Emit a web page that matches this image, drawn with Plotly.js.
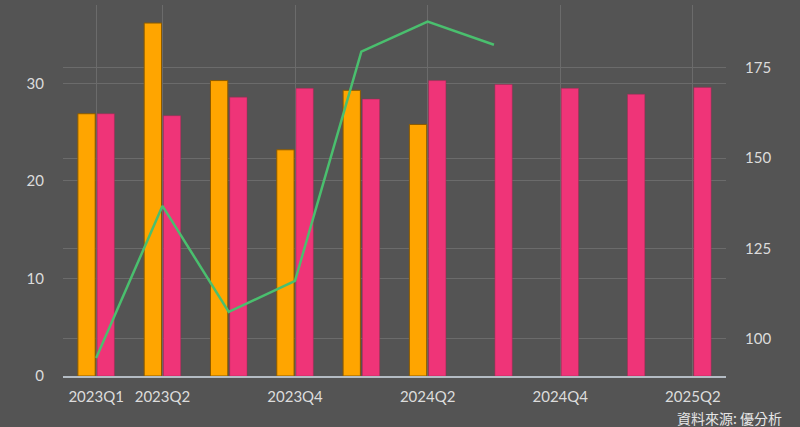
<!DOCTYPE html>
<html>
<head>
<meta charset="utf-8">
<script src="https://cdn.plot.ly/plotly-3.0.1.min.js"></script>
<style>html,body{margin:0;padding:0;background:#545454;}</style>
</head>
<body>
<div id="chart" style="width:800px;height:427px;"></div>
<script>
const quarters = ["2023Q1","2023Q2","2023Q3","2023Q4","2024Q1","2024Q2","2024Q3","2024Q4","2025Q1","2025Q2"];
const tickLabels = ["2023Q1","2023Q2","2023Q4","2024Q2","2024Q4","2025Q2"];
const orangeValues = [26.9, 36.2, 30.3, 23.2, 29.3, 25.8, null, null, null, null];
const pinkValues = [26.9, 26.7, 28.6, 29.5, 28.4, 30.3, 29.9, 29.5, 28.9, 29.6];
const lineValues = [94.7, 136.8, 107.5, 116.1, 179.5, 187.8, 181.4, null, null, null];
const leftTicks = [0, 10, 20, 30];
const rightTicks = [100, 125, 150, 175];

const traces = [
  {type:'bar', x:quarters, y:orangeValues, name:'A', marker:{color:'#FFA500', line:{color:'#8a5a00', width:1}}, hoverinfo:'skip'},
  {type:'bar', x:quarters, y:pinkValues, name:'B', marker:{color:'#EF3478', line:{color:'#a02a55', width:0.5}}, hoverinfo:'skip'},
  {type:'scatter', mode:'lines', x:quarters, y:lineValues, yaxis:'y2', name:'C', line:{color:'#4ABF6E', width:2.5}, connectgaps:false, hoverinfo:'skip'}
];

const gridColor = '#6b6b6b';
const textFont = {family:'Lato, "Noto Sans CJK TC", sans-serif', size:15, color:'#dcdcdc'};

const layout = {
  width:800, height:427,
  paper_bgcolor:'#545454', plot_bgcolor:'#545454',
  margin:{l:63, r:74, t:5, b:51},
  showlegend:false,
  barmode:'group', bargap:0.42, bargroupgap:0.1,
  font:textFont,
  xaxis:{
    type:'category', range:[-0.5, 9.5],
    tickmode:'array', tickvals:tickLabels, ticktext:tickLabels,
    showgrid:true, gridcolor:gridColor, gridwidth:1,
    showline:true, linecolor:'#b4bcc4', linewidth:2,
    ticks:'', ticklabelstandoff:6, tickfont:textFont, zeroline:false
  },
  yaxis:{
    range:[0, 38.05], tickmode:'array', tickvals:leftTicks,
    showgrid:true, gridcolor:gridColor, gridwidth:1, zeroline:false,
    ticks:'', ticklabelstandoff:18, tickfont:textFont
  },
  yaxis2:{
    overlaying:'y', side:'right', range:[89.75, 192.4],
    tickmode:'array', tickvals:rightTicks,
    showgrid:true, gridcolor:gridColor, gridwidth:1, zeroline:false,
    ticks:'', ticklabelstandoff:18, tickfont:textFont
  },
  annotations:[{
    text:'資料來源: 優分析', xref:'paper', yref:'paper', x:1.087, y:-0.08,
    xanchor:'right', yanchor:'top', showarrow:false,
    font:{family:'"Noto Sans CJK TC", sans-serif', size:14, color:'#e6e6e6'}
  }]
};

Plotly.newPlot('chart', traces, layout, {staticPlot:true, displayModeBar:false});
</script>
</body>
</html>
